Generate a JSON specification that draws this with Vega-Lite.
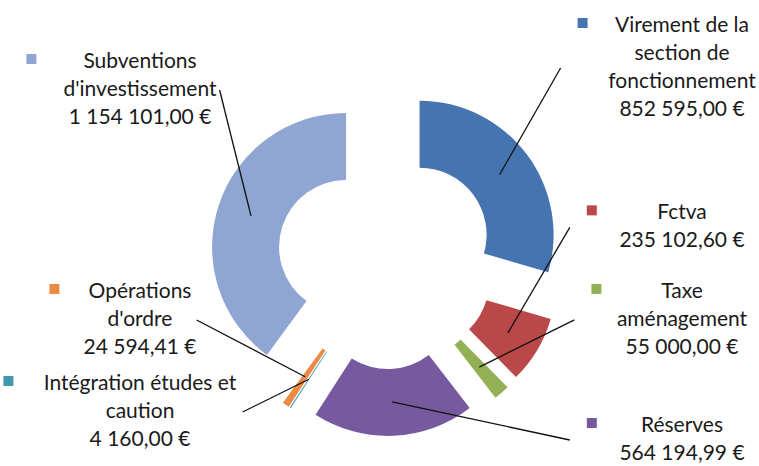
{
  "$schema": "https://vega.github.io/schema/vega-lite/v6.json",
  "width": 759,
  "height": 466,
  "padding": 0,
  "autosize": {"type": "none"},
  "background": "white",
  "config": {
    "view": {"stroke": null},
    "locale": {"number": {"decimal": ",", "thousands": " ", "grouping": [3], "currency": ["", " €"]}}
  },
  "data": {
    "values": [
      {"order": 1, "name": "Virement de la\nsection de\nfonctionnement", "value": 852595.00},
      {"order": 2, "name": "Fctva", "value": 235102.60},
      {"order": 3, "name": "Taxe\naménagement", "value": 55000.00},
      {"order": 4, "name": "Réserves", "value": 564194.99},
      {"order": 5, "name": "Intégration études et\ncaution", "value": 4160.00},
      {"order": 6, "name": "Opérations\nd'ordre", "value": 24594.41},
      {"order": 7, "name": "Subventions\nd'investissement", "value": 1154101.00}
    ]
  },
  "transform": [
    {"stack": "value", "groupby": [], "sort": [{"field": "order", "order": "ascending"}], "offset": "normalize", "as": ["v0", "v1"]},
    {"calculate": "(datum.v0 + datum.v1) / 2", "as": "mid"},
    {"calculate": "2 * PI * datum.mid", "as": "ang"},
    {"calculate": "datum.mid < 0.5 ? 'R' : 'L'", "as": "side"},
    {"calculate": "42 * sin(datum.ang)", "as": "ex"},
    {"calculate": "42 * cos(datum.ang)", "as": "ey"},
    {"calculate": "142 * sin(datum.ang)", "as": "px"},
    {"calculate": "142 * cos(datum.ang)", "as": "py"},
    {"calculate": "datum.side == 'R' ? datum.mid : -datum.mid", "as": "sk"},
    {"window": [{"op": "row_number", "as": "rn"}], "groupby": ["side"], "sort": [{"field": "sk", "order": "ascending"}]},
    {"joinaggregate": [{"op": "count", "as": "n"}, {"op": "min", "field": "sk", "as": "skmin"}, {"op": "max", "field": "sk", "as": "skmax"}], "groupby": ["side"]},
    {"calculate": "0.55 * (datum.rn - 1) / (datum.n - 1) + 0.45 * (datum.sk - datum.skmin) / (datum.skmax - datum.skmin)", "as": "t"},
    {"calculate": "format(datum.value, ',.2f') + ' €'", "as": "amount"},
    {"calculate": "datum.name + '\\n' + datum.amount", "as": "label"},
    {"calculate": "split(datum.label, '\\n')", "as": "lines"},
    {"calculate": "length(datum.lines)", "as": "nl"},
    {"calculate": "max(length(datum.lines[0] || ''), length(datum.lines[1] || ''), length(datum.lines[2] || ''), length(datum.lines[3] || ''))", "as": "maxc"},
    {"calculate": "4.6 * datum.maxc", "as": "hw"},
    {"calculate": "datum.side == 'R' ? 296 : -246", "as": "lx"},
    {"calculate": "datum.side == 'R' ? 192 - datum.t * 372 : 170 - datum.t * 322", "as": "ly"},
    {"calculate": "datum.ly + (datum.nl - 1) * 14", "as": "ty"},
    {"calculate": "datum.lx - datum.hw - 35", "as": "sx"},
    {"calculate": "datum.ty + 3", "as": "sy"},
    {"calculate": "datum.side == 'R' ? datum.sx - 22 : datum.lx + datum.hw + 6", "as": "lsx"}
  ],
  "layer": [
    {
      "mark": {"type": "arc", "innerRadius": 67, "outerRadius": 134, "stroke": null},
      "encoding": {
        "x": {"field": "ex", "type": "quantitative", "scale": {"domain": [-386, 373]}, "axis": null},
        "y": {"field": "ey", "type": "quantitative", "scale": {"domain": [-206, 260]}, "axis": null},
        "theta": {"field": "v0", "type": "quantitative", "scale": {"domain": [0, 1], "range": [0, 6.283185307]}},
        "theta2": {"field": "v1"},
        "color": {"field": "order", "type": "nominal", "legend": null,
          "scale": {"range": ["#4674B0", "#BB4848", "#92B054", "#76599F", "#4198AE", "#E98A45", "#8FA6D2"]}}
      }
    },
    {
      "mark": {"type": "rule", "color": "#111111", "strokeWidth": 1.3},
      "encoding": {
        "x": {"field": "lsx", "type": "quantitative", "scale": {"domain": [-386, 373]}, "axis": null},
        "y": {"field": "ly", "type": "quantitative", "scale": {"domain": [-206, 260]}, "axis": null},
        "x2": {"field": "px"},
        "y2": {"field": "py"}
      }
    },
    {
      "mark": {"type": "square", "size": 100, "filled": true, "opacity": 1},
      "encoding": {
        "x": {"field": "sx", "type": "quantitative", "scale": {"domain": [-386, 373]}, "axis": null},
        "y": {"field": "sy", "type": "quantitative", "scale": {"domain": [-206, 260]}, "axis": null},
        "color": {"field": "order", "type": "nominal", "legend": null,
          "scale": {"range": ["#4674B0", "#BB4848", "#92B054", "#76599F", "#4198AE", "#E98A45", "#8FA6D2"]}}
      }
    },
    {
      "mark": {"type": "text", "align": "center", "baseline": "middle", "lineBreak": "\n", "lineHeight": 28, "font": "Lato", "fontSize": 21, "color": "#1a1a1a"},
      "encoding": {
        "x": {"field": "lx", "type": "quantitative", "scale": {"domain": [-386, 373]}, "axis": null},
        "y": {"field": "ty", "type": "quantitative", "scale": {"domain": [-206, 260]}, "axis": null},
        "text": {"field": "label"}
      }
    }
  ]
}
